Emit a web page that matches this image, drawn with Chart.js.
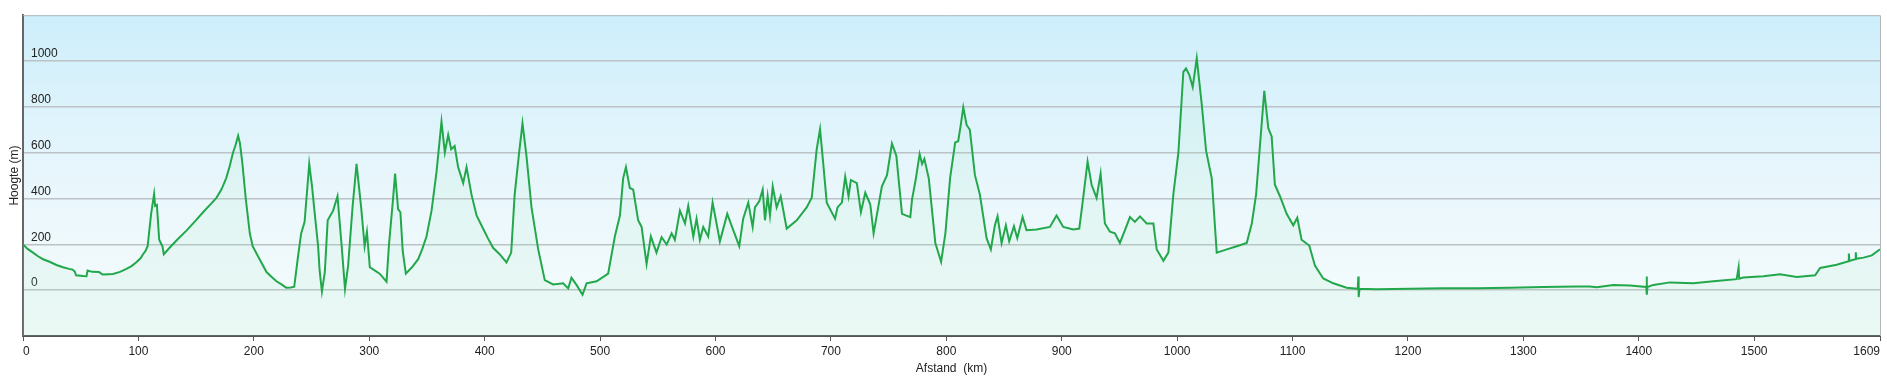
<!DOCTYPE html>
<html><head><meta charset="utf-8">
<script src="https://cdn.jsdelivr.net/npm/chart.js@4"></script>
<style>html,body{margin:0;padding:0;background:#fff;}canvas{display:block;}</style>
</head><body>
<canvas id="c" width="1887" height="382"></canvas>
<script>
// Distance along route (km)
const distanceKm = [0,4,8.7,13,17.4,23,29,34.7,40,43,45,46,52,55,56,60,66,69,74,78,84,89.6,94,98,102,104,106,108,111,113.6,114.5,116,118,120.8,122,127,134,141.6,149,156,162,167.6,172,176,179,182,184,186.4,188,190,193,196.5,199,205,211,215,219.6,224,228,232,235,238,241,244,248,250.5,252.8,255.7,257,259,261.5,264,268.7,272.5,276,279,281.7,285.5,289,293,296,298,300.5,305,309,312,315,317,320.7,322.4,325,327,329,331.7,337,342.4,346,349.6,354,358.3,362.6,365.5,368.4,371,374,377,381.4,384.3,388.6,393,398.6,403,407.3,413,418.9,423,426,429.9,432.8,436.2,440.6,446.4,452.1,459.3,468,472.4,475.2,479.6,484.8,488.3,497,507,512.8,517.2,520,522.4,525.8,528.7,533,536,540.3,544,548.9,553.3,557.7,562,564.8,569.2,573.6,576.4,580.8,583.6,586.5,589.4,593.7,597.5,600.4,603.8,610.2,615.4,620.6,624,628.4,632.2,634.2,638,640.9,642.9,645.2,647.2,649.6,653,656.5,661.7,670.4,679,683.4,687.7,690.6,693,696.4,703.6,705.7,709.5,712.4,715.3,717.3,722.5,726,729.8,734.1,737,744.2,748.6,752.9,756.7,761.6,768.8,770.3,773.2,776.9,779,781,784.8,790.5,795.5,799.2,803.3,807.7,810.3,812.5,814.7,817.6,820.4,824.8,829.1,834.9,838.6,842.1,844.4,847.9,851.6,854.5,858.6,861.5,866.1,869.5,878.2,889.8,895.5,901.3,910,915.2,918.6,922.4,925.9,930.2,933.7,937.4,941.8,946.1,950.4,954.8,959.1,963.4,967.8,973.6,979.4,982.3,988.1,992.4,996.7,1001.1,1005.4,1007.7,1010.6,1013.5,1017,1021.3,1025.1,1030,1034.3,1043,1051.7,1060.3,1064.7,1068.4,1071.9,1075.5,1079,1081.9,1084.7,1089.1,1094.9,1100.6,1104.1,1107.8,1114.5,1119.4,1126.6,1135.3,1146.9,1156.5,1157,1157.3,1158,1172.8,1201.7,1230.6,1259.5,1288.4,1317.3,1346.2,1357.7,1363.5,1378,1392.4,1406.5,1406.8,1407.1,1407.5,1412.6,1427,1447.3,1464.6,1484.8,1486.5,1487,1490.6,1508,1522.4,1536.9,1552.8,1557.1,1571.5,1581.7,1582,1582.5,1587.4,1588,1588.5,1594.7,1601.9,1609];
// Elevation (m)
const heightM = [200,180,164,148,135,124,110,100,93,90,80,65,62,61,86,80,79,68,70,71,80,93,105,121,140,157,170,192,333,420,368,372,220,192,157,185,222,260,300,340,372,403,440,488,540,601,630,674,640,558,400,248,192,135,79,60,39,25,11,12,15,135,248,298,551,450,333,192,86,-6,79,305,347,410,200,5,107,361,551,361,192,255,100,85,72,55,37,192,403,509,354,340,171,72,100,135,180,234,347,516,735,601,678,615,629,537,467,537,417,326,269,225,185,157,121,164,417,601,728,587,361,178,44,25,30,8,54,23,-20,30,39,72,234,326,488,537,446,439,305,276,114,235,164,231,199,248,220,347,291,368,234,312,220,276,234,382,305,213,333,262,192,312,382,276,361,389,439,305,410,326,453,361,410,269,305,361,403,615,702,573,382,312,361,382,495,410,481,467,340,425,375,248,453,502,640,587,333,319,396,474,594,551,573,488,206,124,248,490,645,650,720,798,721,700,502,417,227,178,283,322,206,283,213,279,227,319,262,265,276,326,276,265,269,403,561,460,403,509,291,255,248,206,262,319,298,322,291,291,178,128,164,417,601,953,968,939,886,1013,812,608,488,164,178,192,206,291,417,640,870,707,671,460,410,333,283,316,220,195,107,51,30,11,6,60,-30,6,4,6,8,8,11,14,16,16,13,23,20,14,60,-20,14,23,34,30,39,48,100,50,55,61,69,58,65,97,111,126,160,128,135,165,137,142,152,178];
// Axis ticks and titles
const xTickValues = [0,100,200,300,400,500,600,700,800,900,1000,1100,1200,1300,1400,1500,1609];
const yTickValues = [0,200,400,600,800,1000];
const xTitle = 'Afstand  (km)';
const yTitle = 'Hoogte (m)';

const FONT = {family: '"Liberation Sans", Arial, sans-serif', size: 12};

const bgPlugin = {
  id: 'bg',
  beforeDraw(chart) {
    const {ctx, chartArea: a} = chart;
    const g = ctx.createLinearGradient(0, a.top, 0, a.bottom);
    g.addColorStop(0, '#cdeefb');
    g.addColorStop(0.55, '#eaf7fc');
    g.addColorStop(1, '#f6fcfc');
    ctx.save();
    ctx.fillStyle = g;
    ctx.fillRect(a.left, a.top, a.right - a.left, a.bottom - a.top);
    ctx.restore();
  },
  afterDraw(chart) {
    const {ctx, chartArea: a} = chart;
    ctx.save();
    ctx.strokeStyle = '#b3b8bb';
    ctx.lineWidth = 1;
    ctx.beginPath();
    ctx.moveTo(a.left, a.top + 0.5);
    ctx.lineTo(a.right + 0.5, a.top + 0.5);
    ctx.lineTo(a.right + 0.5, a.bottom);
    ctx.stroke();
    ctx.restore();
  }
};

new Chart(document.getElementById('c').getContext('2d'), {
  type: 'line',
  data: {
    datasets: [{
      data: distanceKm.map((d, i) => ({x: d, y: heightM[i]})),
      borderColor: '#22a84b',
      borderWidth: 2,
      pointRadius: 0,
      tension: 0,
      fill: 'start',
      backgroundColor: 'rgba(165,235,190,0.13)'
    }]
  },
  options: {
    responsive: false,
    animation: false,
    layout: {padding: {top: 5, right: 7, left: 0, bottom: 0}},
    plugins: {legend: {display: false}, tooltip: {enabled: false}},
    scales: {
      x: {
        type: 'linear', min: 0, max: 1609,
        afterBuildTicks: s => { s.ticks = xTickValues.map(v => ({value: v})); },
        afterFit: s => { s.height = 46; },
        grid: {display: true, drawOnChartArea: false, drawTicks: true, tickLength: 5, tickColor: '#555', tickWidth: 1},
        border: {display: true, color: '#555', width: 2},
        ticks: {align: 'inner', padding: 3, color: '#222', font: FONT, maxRotation: 0, autoSkip: false, callback: v => String(v)},
        title: {display: true, text: xTitle, color: '#222', font: FONT, padding: {top: 0, bottom: 6}}
      },
      y: {
        type: 'linear', min: -200, max: 1200,
        afterBuildTicks: s => { s.ticks = yTickValues.map(v => ({value: v})); },
        afterFit: s => { s.width = 23; },
        grid: {color: '#bcc2c5', lineWidth: 1.5, drawTicks: false},
        border: {display: true, color: '#666', width: 2},
        ticks: {mirror: true, padding: 8, labelOffset: -7, color: '#222', font: FONT, callback: v => String(v)},
        title: {display: true, text: yTitle, color: '#222', font: FONT, padding: {top: 7, bottom: 0}}
      }
    }
  },
  plugins: [bgPlugin]
});
</script>
</body></html>
